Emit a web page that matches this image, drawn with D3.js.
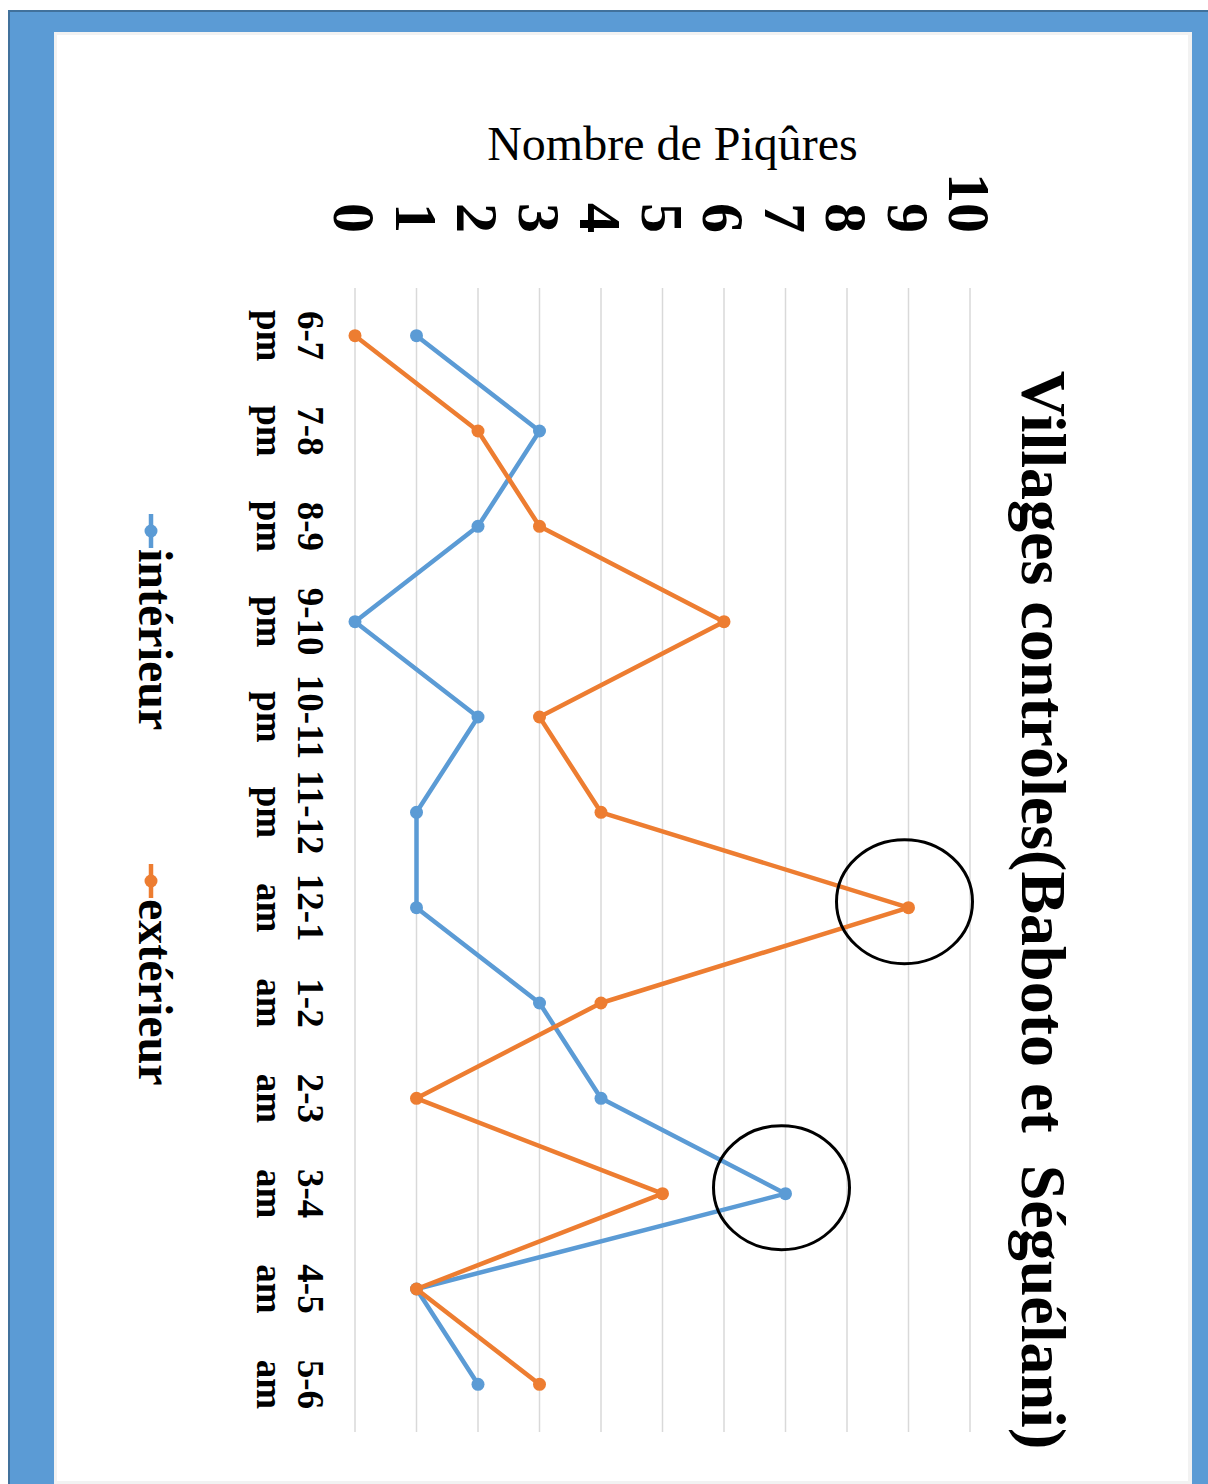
<!DOCTYPE html>
<html>
<head>
<meta charset="utf-8">
<script src="https://cdn.jsdelivr.net/npm/d3@7"></script>
<style>
  html, body { margin: 0; padding: 0; background: #ffffff; }
  svg { display: block; }
  text { font-family: "Liberation Serif", "Times New Roman", serif; }
</style>
</head>
<body>
<script>
// Hourly biting counts, night of capture (villages Baboto et Séguélani)
const hourRanges = ["6-7", "7-8", "8-9", "9-10", "10-11", "11-12", "12-1", "1-2", "2-3", "3-4", "4-5", "5-6"];
const periods    = ["pm", "pm", "pm", "pm", "pm", "pm", "am", "am", "am", "am", "am", "am"];
const interieur  = [1, 3, 2, 0, 2, 1, 1, 3, 4, 7, 1, 2];
const exterieur  = [0, 2, 3, 6, 3, 4, 9, 4, 1, 5, 1, 3];
const valueTicks = [0, 1, 2, 3, 4, 5, 6, 7, 8, 9, 10];
const seriesNames = ["intérieur", "extérieur"];
// peaks picked out with a hand-drawn ring
const highlighted = [
  { series: "extérieur", hour: "12-1" },
  { series: "intérieur", hour: "3-4" }
];

const W = 1208, H = 1484;
const colors = { "intérieur": "#5b9bd5", "extérieur": "#ed7d31" };

const svg = d3.select("body").append("svg")
  .attr("width", W).attr("height", H);

// page frame
svg.append("rect").attr("x", 0).attr("y", 0).attr("width", W).attr("height", H).attr("fill", "#ffffff");
svg.append("rect").attr("x", 8).attr("y", 10).attr("width", W - 8).attr("height", H - 10).attr("fill", "#41719c");
svg.append("rect").attr("x", 10).attr("y", 12).attr("width", W - 10).attr("height", H - 12).attr("fill", "#5b9bd5");
svg.append("rect").attr("x", 54).attr("y", 32).attr("width", 1138).attr("height", H - 32).attr("fill", "#f2f2f2");
svg.append("rect").attr("x", 57).attr("y", 35).attr("width", 1131).attr("height", H - 38).attr("fill", "#ffffff");

// the chart is laid out landscape and turned a quarter turn clockwise
const chart = svg.append("g").attr("transform", `translate(${W},0) rotate(90)`);

const x = d3.scalePoint().domain(hourRanges).range([288, 1432]).padding(0.5);
const y = d3.scaleLinear().domain([0, 10]).range([853, 238]);

// gridlines
chart.append("g").selectAll("line").data(valueTicks).join("line")
  .attr("x1", 288).attr("x2", 1432)
  .attr("y1", d => y(d)).attr("y2", d => y(d))
  .attr("stroke", "#d9d9d9").attr("stroke-width", 1.5);

// value axis labels
const yAxis = chart.append("g")
  .attr("transform", "translate(233,0)")
  .call(d3.axisLeft(y).tickValues(valueTicks).tickSize(0).tickPadding(0).tickFormat(d3.format("d")));
yAxis.select(".domain").remove();
yAxis.selectAll("text")
  .attr("font-size", 60).attr("font-weight", "bold").attr("fill", "#000")
  .attr("font-family", "'Liberation Serif', 'Times New Roman', serif")
  .attr("dy", "0.34em");

// value axis title
chart.append("text")
  .attr("transform", `translate(160,${y(5) - 10}) rotate(-90)`)
  .attr("text-anchor", "middle")
  .attr("font-size", 48).attr("fill", "#000")
  .text("Nombre de Piqûres");

// hour labels (two lines)
const catLabels = chart.append("g").selectAll("text").data(hourRanges).join("text")
  .attr("text-anchor", "middle")
  .attr("font-size", 37).attr("font-weight", "bold").attr("fill", "#000");
catLabels.append("tspan").attr("x", d => x(d)).attr("y", 910).text(d => d);
catLabels.append("tspan").attr("x", d => x(d)).attr("y", 951).text((d, i) => periods[i]);

// series
const seriesData = [
  { name: "intérieur", values: interieur },
  { name: "extérieur", values: exterieur }
];
const line = d3.line().x(d => x(d.hour)).y(d => y(d.v));

const sg = chart.append("g").selectAll("g").data(seriesData).join("g");
sg.append("path")
  .attr("d", s => line(s.values.map((v, i) => ({ hour: hourRanges[i], v }))))
  .attr("fill", "none").attr("stroke", s => colors[s.name])
  .attr("stroke-width", 4.5).attr("stroke-linejoin", "round");
sg.selectAll("circle").data(s => s.values.map((v, i) => ({ hour: hourRanges[i], v, name: s.name }))).join("circle")
  .attr("cx", d => x(d.hour)).attr("cy", d => y(d.v)).attr("r", 6.5)
  .attr("fill", d => colors[d.name]);

// rings around the peaks
chart.append("g").selectAll("ellipse").data(highlighted).join("ellipse")
  .attr("cx", d => x(d.hour) - 6)
  .attr("cy", d => {
    const vals = d.series === "intérieur" ? interieur : exterieur;
    return y(vals[hourRanges.indexOf(d.hour)]) + 4;
  })
  .attr("rx", 62).attr("ry", 68)
  .attr("fill", "none").attr("stroke", "#000").attr("stroke-width", 3);

// legend
const legendPos = [514, 864];
const lg = chart.append("g").selectAll("g").data(seriesNames).join("g")
  .attr("transform", (d, i) => `translate(${legendPos[i]},1057)`);
lg.append("line").attr("x1", 0).attr("x2", 34).attr("y1", 0).attr("y2", 0)
  .attr("stroke", d => colors[d]).attr("stroke-width", 4.5);
lg.append("circle").attr("cx", 17).attr("cy", 0).attr("r", 6.5).attr("fill", d => colors[d]);
lg.append("text").attr("x", 35).attr("y", 12)
  .attr("font-size", 48).attr("font-weight", "bold").attr("fill", "#000")
  .text(d => d);

// title
chart.append("text")
  .attr("x", 910).attr("y", 186)
  .attr("text-anchor", "middle")
  .attr("font-size", 64).attr("font-weight", "bold").attr("fill", "#000")
  .style("white-space", "pre")
  .text("Villages contrôles(Baboto et  Séguélani)");
</script>
</body>
</html>
